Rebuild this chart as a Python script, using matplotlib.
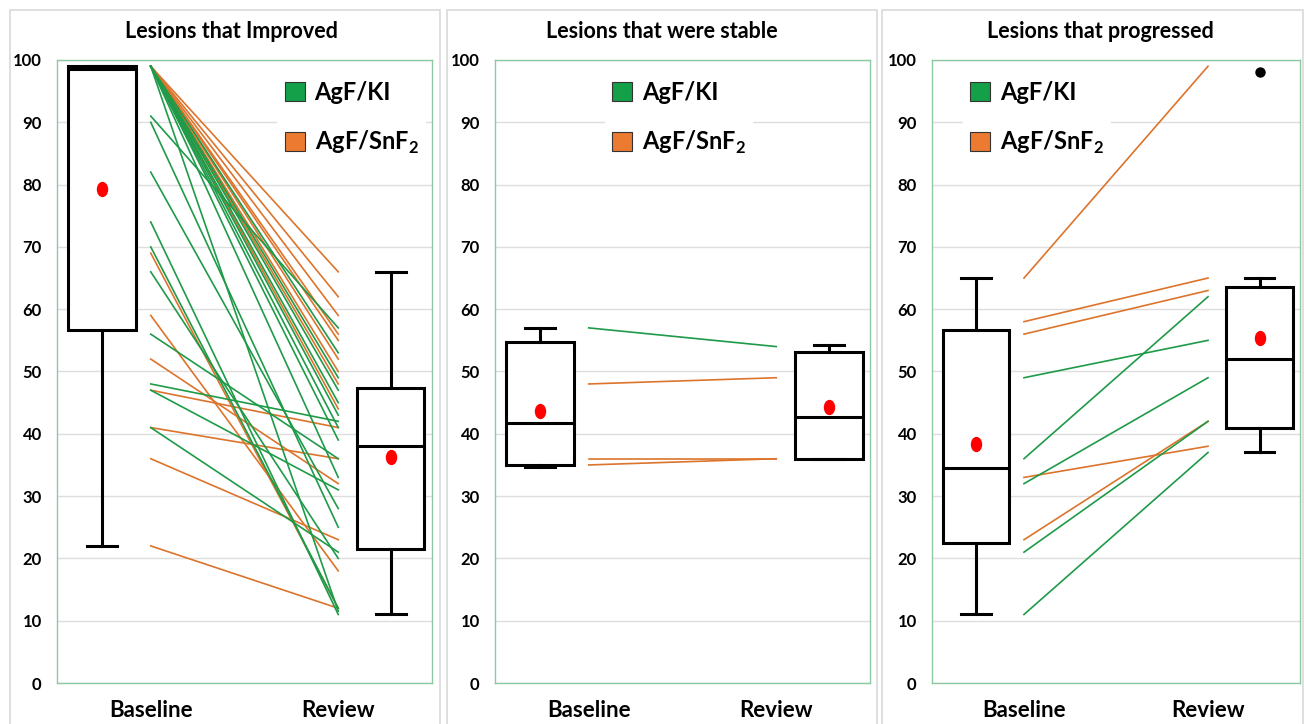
import numpy as np
import matplotlib
matplotlib.use("Agg")
import matplotlib.pyplot as plt
from matplotlib.patches import Patch, Rectangle
from matplotlib.path import Path
from matplotlib.transforms import Affine2D

plt.rcParams["font.family"] = ["Lato", "DejaVu Sans"]
plt.rcParams["font.weight"] = "bold"
plt.rcParams["mathtext.fontset"] = "custom"
plt.rcParams["mathtext.rm"] = "Lato:bold"
plt.rcParams["mathtext.bf"] = "Lato:bold"

# ---- data ----
categories = ["Baseline", "Review"]
titles = ["Lesions that Improved", "Lesions that were stable", "Lesions that progressed"]
group_labels = ["AgF/KI", r"AgF/SnF$_{2}$"]

# improved lesions
imp_ki_base = [99, 99, 99, 99, 99, 99, 99, 99, 99, 91, 90, 82, 74, 70, 66, 56, 48, 47, 41]
imp_ki_rev = [53, 49, 47, 45, 43, 41, 39, 33, 11.5, 57, 25, 28, 11, 12, 20, 36, 42, 31, 21]
imp_sn_base = [99, 99, 99, 99, 99, 99, 99, 99, 99, 69, 59, 52, 47, 41, 36, 22]
imp_sn_rev = [66, 62, 59, 56, 55, 52, 50, 48, 44, 12, 18, 32, 41, 36, 23, 12]

# stable lesions
stb_ki_base = [57]
stb_ki_rev = [54]
stb_sn_base = [48, 36, 35]
stb_sn_rev = [49, 36, 36]

# progressed lesions
prg_ki_base = [49, 36, 32, 21, 11]
prg_ki_rev = [55, 62, 49, 42, 37]
prg_sn_base = [65, 58, 56, 33, 23]
prg_sn_rev = [99, 65, 63, 38, 42]

# box summaries: whislo, q1, med, q3, whishi, mean
imp_box_base = [22, 56.7, 98.5, 99, 99, 79.3]
imp_box_rev = [11, 21.5, 38, 47.3, 66, 36.3]
stb_box_base = [34.6, 35, 41.8, 54.7, 57, 43.6]
stb_box_rev = [36, 36, 42.7, 53.1, 54.3, 44.3]
prg_box_base = [11, 22.5, 34.5, 56.6, 65, 38.3]
prg_box_rev = [37, 41, 52, 63.6, 65, 55.3]
prg_fliers_rev = [98]

green = "#1f9a48"
orange = "#dc742c"
green_sq = "#13a049"
orange_sq = "#ec7a30"
frame_green = "#8cc9a3"

W, H = 1304, 724
fig = plt.figure(figsize=(W / 100, H / 100), dpi=100)

# outer panel frames
for x0, x1 in [(10, 440), (447, 877), (882, 1303)]:
    fig.patches.append(Rectangle((x0 / W, -0.05), (x1 - x0) / W, (H - 10) / H + 0.05,
                                 transform=fig.transFigure, fill=False,
                                 edgecolor="#d9d9d9", lw=1.2))

ax_px = [(57, 375), (495, 375), (932, 368)]
title_x = [231, 662, 1100]
legend_x = [0.588, 0.293, 0.085]

panels = [
    (imp_ki_base, imp_ki_rev, imp_sn_base, imp_sn_rev, imp_box_base, imp_box_rev, []),
    (stb_ki_base, stb_ki_rev, stb_sn_base, stb_sn_rev, stb_box_base, stb_box_rev, []),
    (prg_ki_base, prg_ki_rev, prg_sn_base, prg_sn_rev, prg_box_base, prg_box_rev, prg_fliers_rev),
]

ell = Path.unit_circle().transformed(Affine2D().scale(0.72, 1.0))

for i, (kb, kr, sb, sr, bb, br, fl) in enumerate(panels):
    left, width = ax_px[i]
    ax = fig.add_axes([left / W, (H - 683) / H, width / W, 623 / H])
    ax.set_xlim(0.5, 2.5)
    ax.set_ylim(0, 100)
    ax.set_yticks(np.arange(0, 101, 10))
    ax.grid(axis="y", color="#dedede", lw=1.0, zorder=0)
    ax.set_axisbelow(True)
    for s in ax.spines.values():
        s.set_color(frame_green)
        s.set_linewidth(1.0)
    ax.tick_params(length=0, labelsize=12, pad=11)
    ax.tick_params(axis="x", labelsize=16, pad=12)
    ax.set_xticks([1, 2])
    ax.set_xticklabels(categories)

    for a, b in zip(sb, sr):
        ax.plot([1, 2], [a, b], color=orange, lw=1.2, zorder=2)
    for a, b in zip(kb, kr):
        ax.plot([1, 2], [a, b], color=green, lw=1.2, zorder=2)

    stats = []
    for s, f in [(bb, []), (br, fl)]:
        stats.append(dict(whislo=s[0], q1=s[1], med=s[2], q3=s[3], whishi=s[4],
                          mean=s[5], fliers=f))
    lw = 2.2
    ax.bxp(stats, positions=[0.74, 2.28], widths=0.36, capwidths=0.16,
           showmeans=True, patch_artist=True,
           boxprops=dict(facecolor="white", edgecolor="black", lw=lw),
           medianprops=dict(color="black", lw=lw),
           whiskerprops=dict(color="black", lw=lw),
           capprops=dict(color="black", lw=lw),
           meanprops=dict(marker=ell, markerfacecolor="red", markeredgecolor="red",
                          markersize=10),
           flierprops=dict(marker="o", markerfacecolor="black", markeredgecolor="black",
                           markersize=6.5),
           manage_ticks=False, zorder=3)

    handles = [Patch(facecolor=green_sq, edgecolor="#333333", lw=0.8),
               Patch(facecolor=orange_sq, edgecolor="#333333", lw=0.8)]
    leg = ax.legend(handles, group_labels, loc="upper left",
                    bbox_to_anchor=(legend_x[i], 0.978), borderaxespad=0,
                    fontsize=17, handlelength=0.85, handleheight=0.85,
                    handletextpad=0.42, labelspacing=1.05, frameon=True,
                    borderpad=0.3, fancybox=False, framealpha=1)
    leg.get_frame().set_edgecolor("none")
    leg.get_frame().set_facecolor("white")

    fig.text(title_x[i] / W, 1 - 32 / H, titles[i], ha="center", va="center",
             fontsize=15.5, fontweight="bold")

fig.savefig("out.png", dpi=100)
